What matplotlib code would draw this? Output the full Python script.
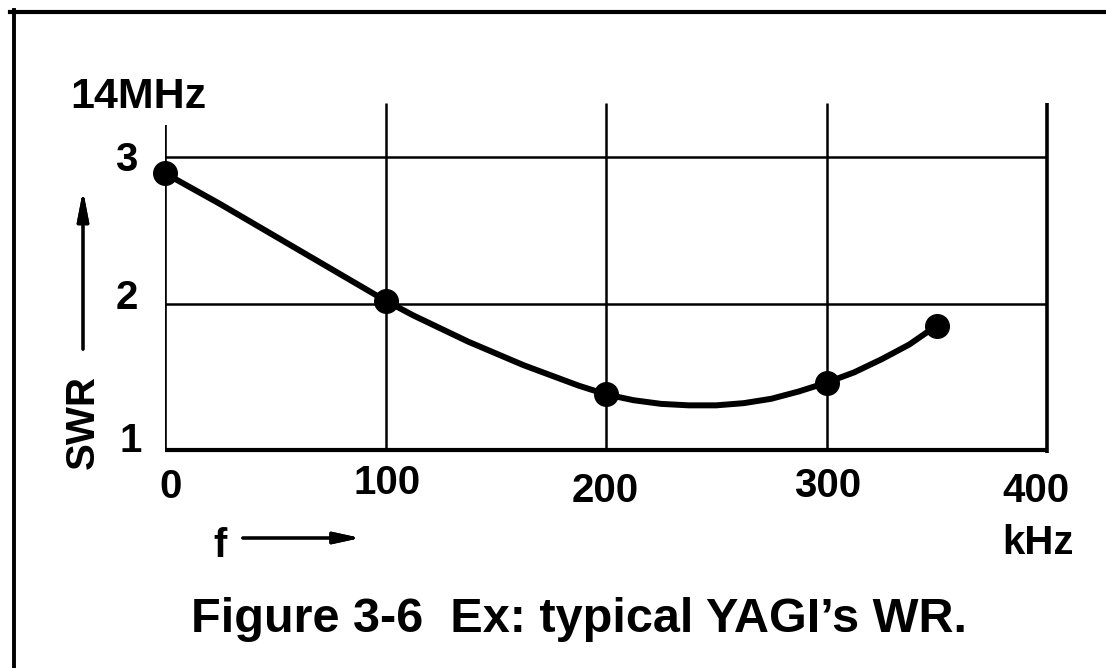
import matplotlib
matplotlib.use("Agg")
import matplotlib.pyplot as plt
from matplotlib.lines import Line2D

plt.rcParams['font.family'] = ['Liberation Sans', 'DejaVu Sans']

# measured points (kHz above 14 MHz, SWR)
meas_f = [0, 100, 200, 300, 350]
meas_swr = [2.89, 2.02, 1.38, 1.46, 1.85]

# curve
curve_f = [0, 25, 50, 75, 100, 112.5, 125, 137.5, 150, 162.5, 175, 187.5, 200,
           212.5, 225, 237.5, 250, 262.5, 275, 287.5, 300, 312.5, 325, 337.5, 350]
curve_swr = [2.89, 2.68, 2.46, 2.24, 2.02, 1.92, 1.83, 1.74, 1.66, 1.58, 1.51, 1.44, 1.38,
             1.34, 1.315, 1.305, 1.305, 1.32, 1.35, 1.40, 1.46, 1.53, 1.62, 1.72, 1.85]

x_ticks = [0, 100, 200, 300, 400]
x_labels = ["0", "100", "200", "300", "400"]
y_ticks = [1, 2, 3]
y_labels = ["1", "2", "3"]

W, H = 1106, 668
fig = plt.figure(figsize=(W / 100, H / 100), dpi=100)
fig.patch.set_facecolor("white")


def fx(x):
    return x / W


def fy(y):
    return 1 - y / H


# page frame (scan border)
fig.add_artist(Line2D([fx(10), 1], [fy(12), fy(12)], color="black", lw=3))
fig.add_artist(Line2D([fx(14), fx(14)], [fy(10), 0], color="black", lw=2.8))

# plot area: x 0..400 -> px 165..1047, y 1 -> px 450, top 3.37 -> px 103
ax = fig.add_axes([fx(165), fy(450), fx(1047) - fx(165), (450 - 103) / H])
ax.set_xlim(0, 400)
ax.set_ylim(1, 3.37)
ax.axis("off")

# grid
ax.hlines(y_ticks[1:], 0, 400, color="black", lw=1.8, zorder=1)
ax.hlines(y_ticks[0], 0, 400, color="black", lw=3.0, zorder=1, clip_on=False)
ax.vlines(x_ticks[1:4], 1, 3.37, color="black", lw=1.8, zorder=1)
ax.vlines(x_ticks[4], 0.98, 3.37, color="black", lw=2.6, zorder=1, clip_on=False)
ax.vlines(x_ticks[0], 1, 3.22, color="black", lw=2.6, zorder=1)

# curve and points
ax.plot(curve_f, curve_swr, color="black", lw=4.3, solid_capstyle="round",
        solid_joinstyle="round", zorder=3)
ax.plot(meas_f, meas_swr, "o", color="black", ms=17, zorder=4, clip_on=False)

fs = 29
tkw = dict(fontsize=fs, fontweight="bold", ha="center", va="center")

# x tick labels (staggered as in print)
x_lab_pos = [(171, 487), (387, 483), (605, 491), (828, 486), (1036, 491)]
for lab, (px, py) in zip(x_labels, x_lab_pos):
    fig.text(fx(px), fy(py), lab, **tkw)

y_lab_pos = [(131, 441), (127, 298), (126, 160)]
for lab, (px, py) in zip(y_labels, y_lab_pos):
    fig.text(fx(px), fy(py), lab, **tkw)

fig.text(fx(138), fy(97), "14MHz", fontsize=31, fontweight="bold", ha="center", va="center")
fig.text(fx(1038), fy(543), "kHz", **tkw)
fig.text(fx(220), fy(546), "f", **tkw)
fig.text(fx(83), fy(422), "SWR", rotation=90, **tkw)

# axis arrows
fig.add_artist(plt.annotate("", xy=(fx(363), fy(538)), xytext=(fx(240), fy(538)),
                            xycoords="figure fraction",
                            arrowprops=dict(arrowstyle="-|>,head_length=1.6,head_width=0.35",
                                            color="black", lw=2.2)))
fig.add_artist(plt.annotate("", xy=(fx(83), fy(188)), xytext=(fx(83), fy(352)),
                            xycoords="figure fraction",
                            arrowprops=dict(arrowstyle="-|>,head_length=1.8,head_width=0.35",
                                            color="black", lw=2.2)))

fig.text(fx(579), fy(632), "Figure 3-6  Ex: typical YAGI\u2019s WR.",
         fontsize=35, fontweight="bold", ha="center", va="baseline")

fig.savefig("out.png", dpi=100, facecolor="white")
